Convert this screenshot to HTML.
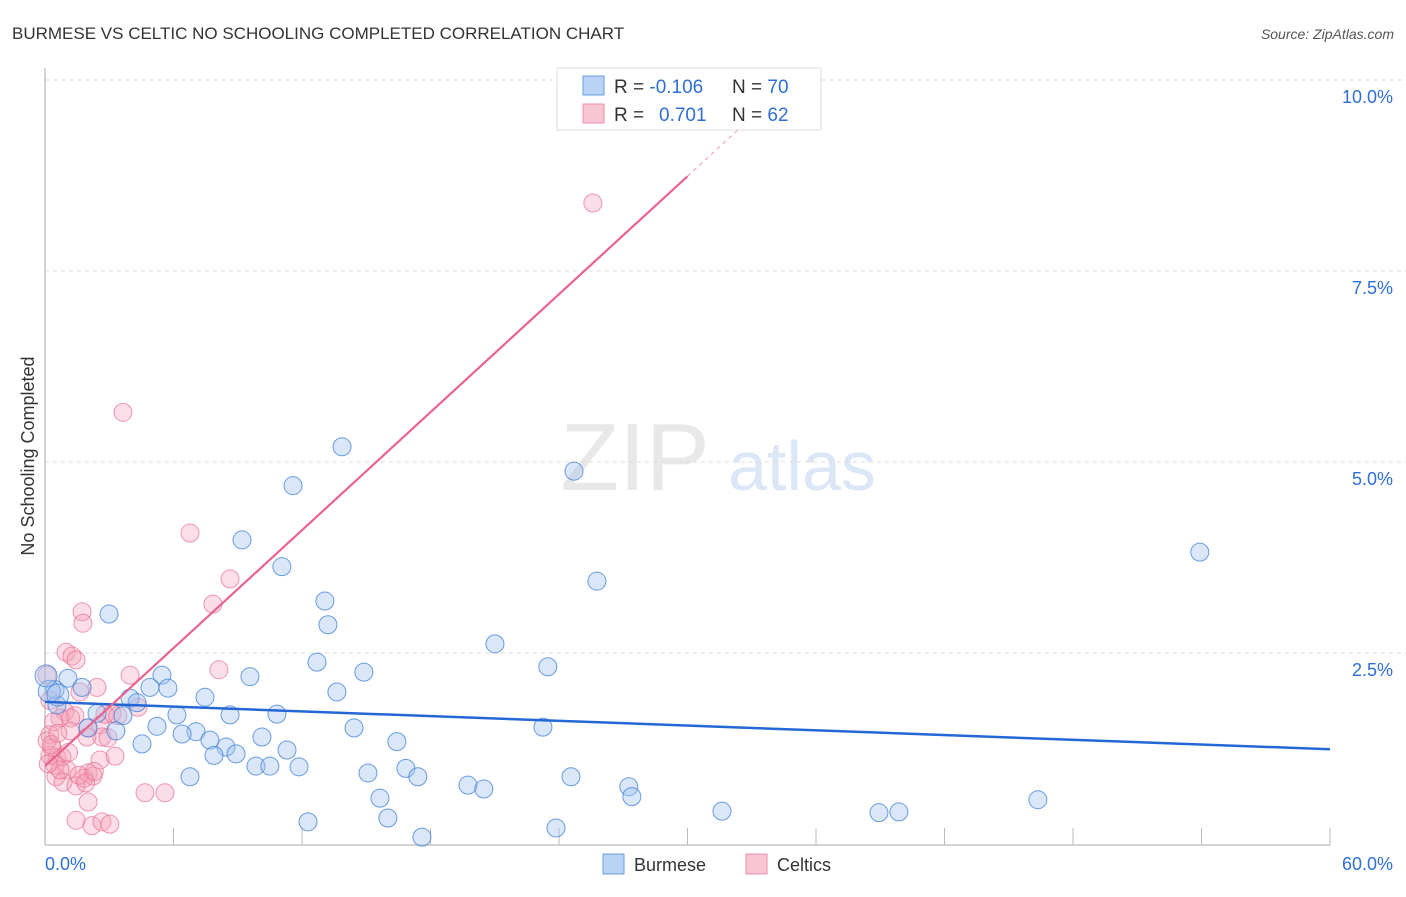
<!DOCTYPE html>
<html><head><meta charset="utf-8"><style>
body{margin:0;background:#fff;font-family:"Liberation Sans",sans-serif}
svg text{font-family:"Liberation Sans",sans-serif}
</style></head><body>
<svg id="c" width="1406" height="892" viewBox="0 0 1406 892">
<text x="12" y="39" font-size="17" fill="#333">BURMESE VS CELTIC NO SCHOOLING COMPLETED CORRELATION CHART</text>
<text x="1394" y="39" font-size="14" fill="#555" font-style="italic" text-anchor="end">Source: ZipAtlas.com</text>
<text x="635" y="490" font-size="96" fill="#e8e8e8" font-family="Liberation Serif" text-anchor="middle">ZIP</text>
<text x="802" y="490" font-size="70" fill="#dbe7f6" text-anchor="middle">atlas</text>
<text transform="translate(34,456) rotate(-90)" font-size="18" fill="#333" text-anchor="middle">No Schooling Completed</text>
<g id="grid"></g><g id="axes"></g><g id="pts"></g><g id="lines"></g>
<g>
<rect x="557" y="68" width="264" height="62" fill="#fff" stroke="#ddd"/>
<rect x="583" y="76" width="21" height="19" fill="#b8d3f3" stroke="#6a9ee0"/>
<rect x="583" y="104" width="21" height="19" fill="#f8c5d3" stroke="#ec8fa9"/>
<text x="614" y="93" font-size="19" fill="#333">R = <tspan fill="#2f6fd6">-0.106</tspan><tspan x="732">N = </tspan><tspan fill="#2f6fd6">70</tspan></text>
<text x="614" y="121" font-size="19" fill="#333">R = <tspan x="659" fill="#2f6fd6">0.701</tspan><tspan x="732">N = </tspan><tspan fill="#2f6fd6">62</tspan></text>
</g>
<g>
<rect x="603" y="854" width="21" height="20" fill="#b8d3f3" stroke="#6a9ee0"/>
<text x="634" y="871" font-size="18" fill="#333">Burmese</text>
<rect x="746" y="854" width="21" height="20" fill="#f8c5d3" stroke="#ec8fa9"/>
<text x="777" y="871" font-size="18" fill="#333">Celtics</text>
</g>
</svg>
<script>
const yTicks=[2.5,5,7.5,10];
const yTickLabels=["2.5%","5.0%","7.5%","10.0%"];
const xTickLabels=["0.0%","60.0%"];
const burmeseX=[13.87,11.58,24.70,53.92,9.20,11.06,25.77,2.99,13.07,13.21,21.01,12.70,23.48,14.89,9.57,5.46,1.07,4.90,5.74,1.73,13.63,7.47,3.97,4.30,0.56,0.47,2.43,6.16,8.64,10.83,3.64,14.43,23.25,5.23,3.31,7.05,2.01,6.40,7.70,10.13,4.53,8.45,16.43,11.30,7.89,8.92,9.85,10.50,11.86,16.85,15.08,17.41,6.77,24.56,19.75,20.49,27.26,27.40,15.64,46.36,31.61,38.94,39.87,16.01,12.28,23.86,17.60,0.2,0.05,0.6];
const burmeseY=[5.20,4.69,4.88,3.82,3.98,3.63,3.44,3.01,3.18,2.87,2.62,2.38,2.32,2.25,2.19,2.21,2.17,2.05,2.04,2.05,1.99,1.92,1.91,1.85,1.82,2.02,1.71,1.69,1.69,1.70,1.68,1.52,1.53,1.54,1.48,1.47,1.52,1.44,1.36,1.40,1.31,1.27,1.34,1.23,1.16,1.18,1.02,1.02,1.01,0.99,0.93,0.88,0.88,0.88,0.77,0.72,0.75,0.62,0.60,0.58,0.43,0.41,0.42,0.34,0.29,0.21,0.09,2.0,2.2,1.95];
const celticX=[25.58,3.64,6.77,8.64,7.84,1.73,1.77,0.98,1.26,1.45,3.97,8.12,2.43,1.63,4.34,3.13,0.93,1.40,0.70,0.23,0.09,2.57,2.01,1.17,0.23,0.33,0.56,0.79,2.66,2.94,1.96,2.57,1.03,2.01,2.24,1.82,0.51,0.84,1.45,1.59,2.01,1.45,2.19,2.66,3.03,4.67,5.60,0.23,0.47,3.27,0.70,0.1,0.4,1.1,2.8,0.3,1.9,0.6,2.3,1.2,0.15,3.4];
const celticY=[8.39,5.65,4.07,3.47,3.14,3.04,2.89,2.51,2.46,2.41,2.21,2.28,2.05,1.99,1.79,1.71,1.73,1.68,1.65,1.88,2.21,1.56,1.52,1.48,1.43,1.26,1.13,1.14,1.40,1.39,1.40,1.10,0.97,0.93,0.89,0.86,0.88,0.81,0.76,0.90,0.55,0.31,0.24,0.29,0.26,0.67,0.67,1.16,1.03,1.15,0.97,1.35,1.6,1.2,1.7,1.3,0.8,1.45,0.95,1.65,1.05,1.68];
const burmeseFit=[1.86,1.24];
const celticFit=[1.02,8.74];
const NS="http://www.w3.org/2000/svg";
const X=v=>45+v*(1285/60), Y=v=>844-v*76.4;
function mk(t,a,p){const e=document.createElementNS(NS,t);for(const k in a)e.setAttribute(k,a[k]);p.appendChild(e);return e;}
const g=document.getElementById('grid'),ax=document.getElementById('axes'),pts=document.getElementById('pts'),ln=document.getElementById('lines');
yTicks.forEach((t,i)=>{
 const l=mk('line',{x1:45,x2:1420,y1:Y(t),y2:Y(t),stroke:'#ddd','stroke-dasharray':'4,4'},g);
 
 
 const tx=mk('text',{x:1393,y:Y(t)+23,'font-size':18,fill:'#2f6fd6','text-anchor':'end'},ax);
 tx.textContent=yTickLabels[i];
 
 
});
const ya=mk('line',{x1:45,x2:45,y1:68,y2:845,stroke:'#aaa'},ax);


const xa=mk('line',{x1:45,x2:1330,y1:845,y2:845,stroke:'#aaa'},ax);


for(let i=1;i<=10;i++){const t=mk('line',{x1:X(i*6),x2:X(i*6),y1:828,y2:845,stroke:'#bbb'},ax);
 
 }
[[0,'start',45],[60,'end',1393]].forEach(([v,a,px],i)=>{const t=mk('text',{x:px,y:870,'font-size':18,fill:'#2f6fd6','text-anchor':a},ax);t.textContent=xTickLabels[i];
 
 });
celticX.forEach((v,i)=>{const c=mk('circle',{cx:X(v),cy:Y(celticY[i]),r:9,fill:'rgba(244,160,185,0.35)',stroke:'rgba(232,110,145,0.7)','stroke-width':1},pts);
 
 });
burmeseX.forEach((v,i)=>{const c=mk('circle',{cx:X(v),cy:Y(burmeseY[i]),r:i>=67?11:9,fill:'rgba(160,195,240,0.4)',stroke:'rgba(60,125,215,0.75)','stroke-width':1},pts);
 
 });
const bl=mk('line',{x1:X(0),y1:Y(burmeseFit[0]),x2:X(60),y2:Y(burmeseFit[1]),stroke:'#2368d6','stroke-width':2.5},ln);


const cs=(celticFit[1]-celticFit[0])/30;
const cl=mk('line',{x1:X(0),y1:Y(celticFit[0]),x2:X(30),y2:Y(celticFit[1]),stroke:'#e8648e','stroke-width':2.2},ln);


const cd=mk('line',{x1:X(30),y1:Y(celticFit[1]),x2:X(33),y2:Y(celticFit[0]+cs*33),stroke:'#f0a8bd','stroke-width':1.2,'stroke-dasharray':'4,4'},ln);


</script>
</body></html>
